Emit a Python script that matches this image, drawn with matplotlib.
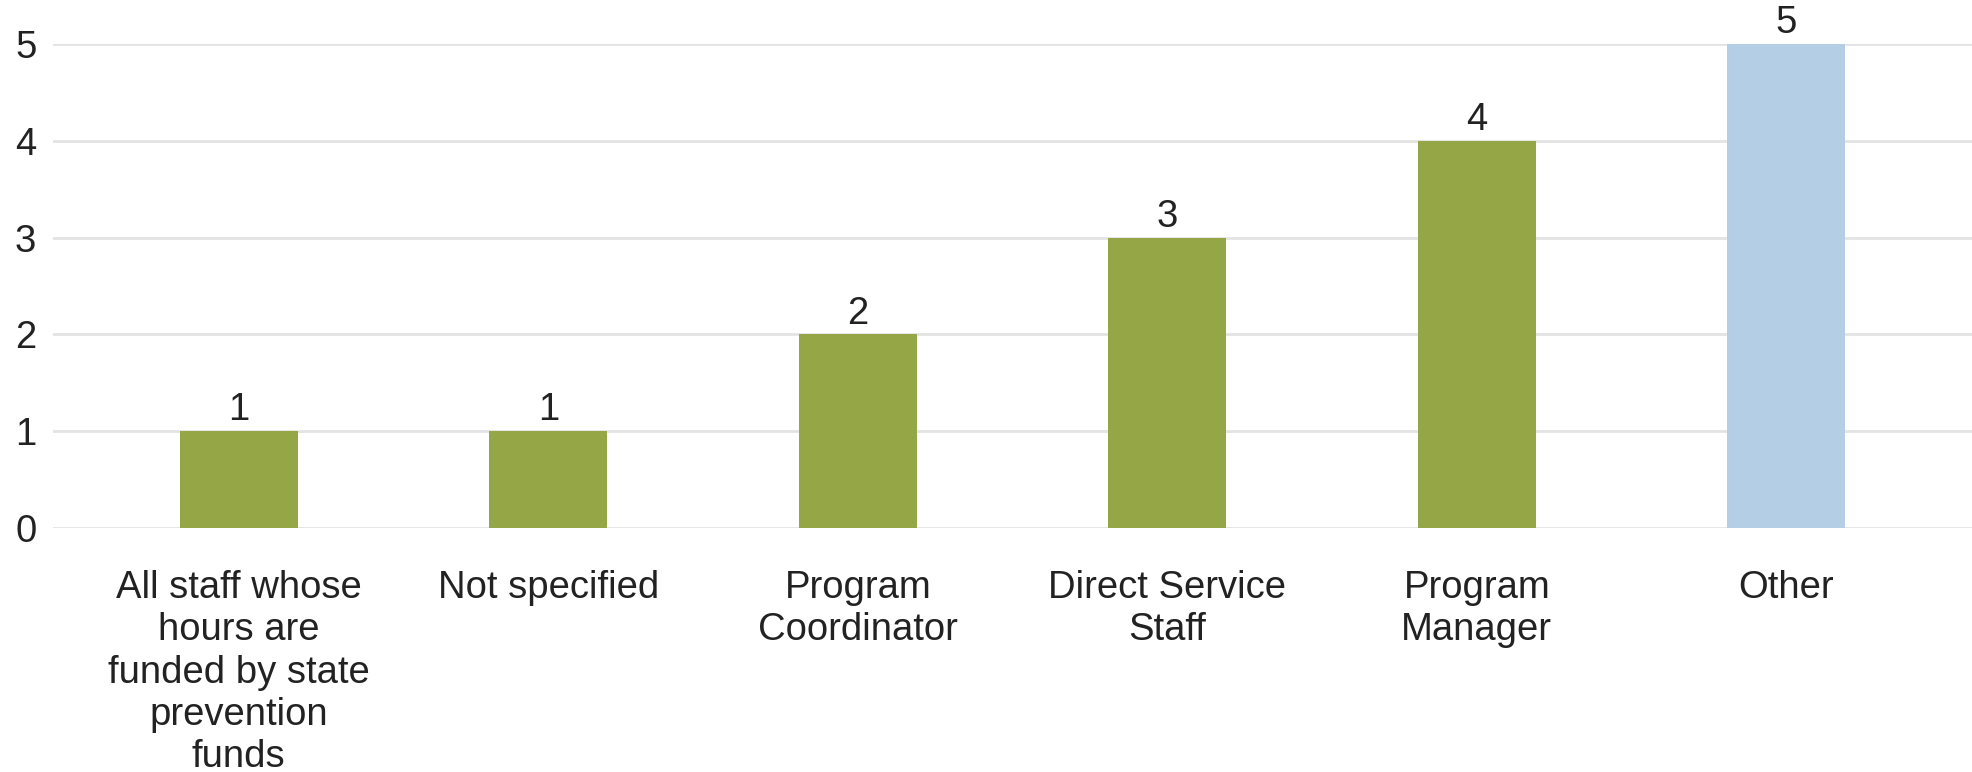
import matplotlib.pyplot as plt

categories = ["All staff whose\nhours are\nfunded by state\nprevention\nfunds",
              "Not specified", "Program\nCoordinator", "Direct Service\nStaff",
              "Program\nManager", "Other"]
values = [1, 1, 2, 3, 4, 5]
bar_colors = ["#94A646", "#94A646", "#94A646", "#94A646", "#94A646", "#B3CEE5"]

plt.rcParams['font.family'] = ['Liberation Sans', 'DejaVu Sans']

fig = plt.figure(figsize=(19.72, 7.72), dpi=100)
ax = fig.add_axes([0.0269, 0.316, 0.9731, 0.627])

x = list(range(len(categories)))
bars = ax.bar(x, values, width=0.38, color=bar_colors, zorder=3)

for b, v in zip(bars, values):
    ax.annotate(str(v), (b.get_x() + b.get_width() / 2, v), xytext=(0, 2),
                textcoords='offset points', ha='center', va='bottom',
                fontsize=27.5, color='#222222')

ax.set_xlim(-0.6, len(categories) - 0.4)
ax.set_ylim(0, 5)
ax.set_yticks(range(0, 6))
ax.set_xticks(x)
ax.set_xticklabels(categories, fontsize=27.5, color='#222222', linespacing=1.23)
ax.tick_params(axis='y', labelsize=27.5, labelcolor='#222222', length=0, pad=12)
ax.tick_params(axis='x', length=0, pad=30)

ax.grid(axis='y', color='#E3E3E3', linewidth=2, zorder=0)
for s in ax.spines.values():
    s.set_visible(False)

fig.savefig("out.png", dpi=100)
